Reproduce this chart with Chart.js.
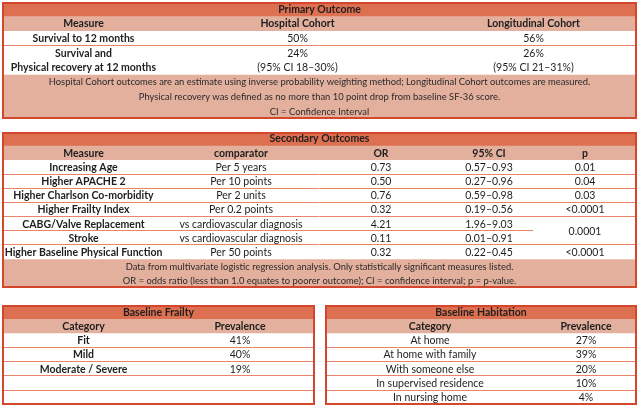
<!DOCTYPE html>
<html lang="en">
<head>
<meta charset="UTF-8">
<meta content="width=device-width, initial-scale=1.0" name="viewport">
<title>Outcome Tables</title>
<script src="https://cdn.jsdelivr.net/npm/chart.js@4"></script>
<style>
  body {
    margin: 0;
    width: 640px;
    height: 408px;
    background: #ffffff;
    position: relative;
    overflow: hidden;
  }
  .tbl { position: absolute; }
  #primary   { left: 2px;   top: 2px;   width: 635px; height: 117px; }
  #secondary { left: 2px;   top: 132px; width: 635px; height: 156px; }
  #frailty   { left: 2px;   top: 305px; width: 313px; height: 100px; }
  #habitat   { left: 325px; top: 305px; width: 312px; height: 100px; }
</style>
</head>
<body>
<div class="tbl" id="primary"><canvas id="primaryChart"></canvas></div>
<div class="tbl" id="secondary"><canvas id="secondaryChart"></canvas></div>
<div class="tbl" id="frailty"><canvas id="frailtyChart"></canvas></div>
<div class="tbl" id="habitat"><canvas id="habitatChart"></canvas></div>

<script>
  // --- data ---
  const primaryTitle = 'Primary Outcome';
  const primaryHeaders = ['Measure', 'Hospital Cohort', 'Longitudinal Cohort'];
  const primaryMeasures = [['Survival to 12 months'], ['Survival and', 'Physical recovery at 12 months']];
  const hospitalCohort = [['50%'], ['24%', '(95% CI 18–30%)']];
  const longitudinalCohort = [['56%'], ['26%', '(95% CI 21–31%)']];
  const primaryNotes = [
    'Hospital Cohort outcomes are an estimate using inverse probability weighting method; Longitudinal Cohort outcomes are measured.',
    'Physical recovery was defined as no more than 10 point drop from baseline SF-36 score.',
    'CI = Confidence Interval'
  ];

  const secondaryTitle = 'Secondary Outcomes';
  const secondaryHeaders = ['Measure', 'comparator', 'OR', '95% CI', 'p'];
  const secondaryMeasures = ['Increasing Age', 'Higher APACHE 2', 'Higher Charlson Co-morbidity', 'Higher Frailty Index',
    'CABG/Valve Replacement', 'Stroke', 'Higher Baseline Physical Function'];
  const comparators = ['Per 5 years', 'Per 10 points', 'Per 2 units', 'Per 0.2 points',
    'vs cardiovascular diagnosis', 'vs cardiovascular diagnosis', 'Per 50 points'];
  const oddsRatios = [0.73, 0.50, 0.76, 0.32, 4.21, 0.11, 0.32];
  const ciLower = [0.57, 0.27, 0.59, 0.19, 1.96, 0.01, 0.22];
  const ciUpper = [0.93, 0.96, 0.98, 0.56, 9.03, 0.91, 0.45];
  const pValues = ['0.01', '0.04', '0.03', '<0.0001', '0.0001', null, '<0.0001']; // null = merged with row above
  const secondaryNotes = [
    'Data from multivariate logistic regression analysis. Only statistically significant measures listed.',
    'OR = odds ratio (less than 1.0 equates to poorer outcome); CI = confidence interval; p = p-value.'
  ];

  const frailtyTitle = 'Baseline Frailty';
  const frailtyCategories = ['Fit', 'Mild', 'Moderate / Severe'];
  const frailtyPrevalence = ['41%', '40%', '19%'];

  const habitationTitle = 'Baseline Habitation';
  const habitationCategories = ['At home', 'At home with family', 'With someone else', 'In supervised residence', 'In nursing home'];
  const habitationPrevalence = ['27%', '39%', '20%', '10%', '4%'];

  const categoryHeaders = ['Category', 'Prevalence'];

  // --- styling ---
  const FILL = { title: '#de7052', header: '#e4b09e', note: '#e4b09e', body: '#ffffff' };
  const LINE = '#e8846a';
  const BORDER = '#d4472c';
  const FONT = 'Lato, "Open Sans", sans-serif';
  const SIZE = 10.5;
  const NOTE_SIZE = 9.4;

  const asLines = v => v === null ? null : (Array.isArray(v) ? v : [v]);

  // turn a table description into one category slot per text line
  function buildSlots(t) {
    const slots = [];
    slots.push({ kind: 'title' });
    slots.push({ kind: 'header' });
    const rowStart = [];
    t.rows.forEach(row => {
      const h = Math.max(1, ...row.map(c => c ? asLines(c).length : 1));
      rowStart.push(slots.length);
      for (let i = 0; i < h; i++) slots.push({ kind: 'body' });
    });
    for (let i = t.rows.length; i < (t.minRows || 0); i++) {
      rowStart.push(slots.length);
      slots.push({ kind: 'body' });
      t.rows.push(t.headers.map(() => ''));
    }
    rowStart.push(slots.length);
    (t.notes || []).forEach(() => slots.push({ kind: 'note' }));
    return { slots, rowStart };
  }

  const tablePlugin = {
    id: 'tableCells',
    afterDatasetsDraw(chart) {
      const t = chart.config.options.plugins.tableCells;
      const { ctx, chartArea: a } = chart;
      const xs = chart.scales.x, ys = chart.scales.y;
      const slotH = ys.getPixelForValue(1) - ys.getPixelForValue(0);
      const yAt = p => ys.getPixelForValue(0) - slotH / 2 + p * slotH;   // p = slot edge position
      const colX = c => xs.getPixelForValue(t.cols[c]);
      const colMid = c => xs.getPixelForValue((t.cols[c] + t.cols[c + 1]) / 2);
      const { rowStart } = t.layout;

      ctx.save();
      ctx.textAlign = 'center';
      ctx.textBaseline = 'middle';
      ctx.fillStyle = '#1e1e1e';

      // title and header
      ctx.font = `bold ${SIZE}px ${FONT}`;
      ctx.fillText(t.title, (a.left + a.right) / 2, yAt(0.5));
      t.headers.forEach((h, c) => ctx.fillText(h, colMid(c), yAt(1.5)));

      // row separators
      ctx.strokeStyle = LINE;
      ctx.lineWidth = 1;
      for (let r = 0; r < t.rows.length - (t.notes ? 1 : 0); r++) {
        const y = Math.round(yAt(rowStart[r + 1])) - 0.5;
        const next = t.rows[r + 1];
        let x1 = a.right;
        if (next) {
          const firstMerged = next.findIndex(c => c === null);
          if (firstMerged >= 0) x1 = colX(firstMerged);
        }
        ctx.beginPath();
        ctx.moveTo(a.left, y);
        ctx.lineTo(x1, y);
        ctx.stroke();
      }

      // body cells
      t.rows.forEach((row, r) => {
        row.forEach((cell, c) => {
          if (cell === null || cell === '') return;
          const lines = asLines(cell);
          let end = r + 1;
          while (end < t.rows.length && t.rows[end][c] === null) end++;
          const top = rowStart[r], h = rowStart[end] - top;
          const off = (h - lines.length) / 2;
          ctx.font = `${t.boldCols.includes(c) ? 'bold ' : ''}${SIZE}px ${FONT}`;
          lines.forEach((ln, j) => ctx.fillText(ln, colMid(c), yAt(top + off + j + 0.5)));
        });
      });

      // notes
      ctx.font = `${NOTE_SIZE}px ${FONT}`;
      ctx.fillStyle = '#2a2a2a';
      (t.notes || []).forEach((n, j) => {
        ctx.fillText(n, (a.left + a.right) / 2, yAt(rowStart[t.rows.length] + j + 0.5));
      });

      // outer border
      ctx.strokeStyle = BORDER;
      ctx.lineWidth = 2;
      ctx.strokeRect(a.left + 1, a.top + 1, a.right - a.left - 2, a.bottom - a.top - 2);
      ctx.restore();
    }
  };

  function drawTable(canvasId, t) {
    const layout = buildSlots(t);
    t.layout = layout;
    const labels = layout.slots.map((s, i) => s.kind + i);
    new Chart(document.getElementById(canvasId), {
      type: 'bar',
      data: {
        labels: labels,
        datasets: [{
          data: layout.slots.map(() => [t.cols[0], t.cols[t.cols.length - 1]]),
          backgroundColor: layout.slots.map(s => FILL[s.kind]),
          borderWidth: 0,
          barPercentage: 1,
          categoryPercentage: 1
        }]
      },
      options: {
        indexAxis: 'y',
        responsive: true,
        maintainAspectRatio: false,
        animation: false,
        events: [],
        layout: { padding: 0 },
        scales: {
          x: { type: 'linear', display: false, min: t.cols[0], max: t.cols[t.cols.length - 1] },
          y: { type: 'category', display: false }
        },
        plugins: { legend: { display: false }, tooltip: { enabled: false }, tableCells: t }
      },
      plugins: [tablePlugin]
    });
  }

  drawTable('primaryChart', {
    title: primaryTitle,
    headers: primaryHeaders,
    cols: [0, 163, 428, 635],
    boldCols: [0],
    rows: primaryMeasures.map((m, i) => [m, hospitalCohort[i], longitudinalCohort[i]]),
    notes: primaryNotes
  });

  drawTable('secondaryChart', {
    title: secondaryTitle,
    headers: secondaryHeaders,
    cols: [0, 163, 315, 443, 531, 635],
    boldCols: [0],
    rows: secondaryMeasures.map((m, i) => [m, comparators[i], oddsRatios[i].toFixed(2),
      ciLower[i].toFixed(2) + '–' + ciUpper[i].toFixed(2), pValues[i]]),
    notes: secondaryNotes
  });

  drawTable('frailtyChart', {
    title: frailtyTitle,
    headers: categoryHeaders,
    cols: [0, 163, 313],
    boldCols: [0],
    minRows: 5,
    rows: frailtyCategories.map((c, i) => [c, frailtyPrevalence[i]])
  });

  drawTable('habitatChart', {
    title: habitationTitle,
    headers: categoryHeaders,
    cols: [0, 210, 312],
    boldCols: [],
    rows: habitationCategories.map((c, i) => [c, habitationPrevalence[i]])
  });
</script>
</body>
</html>
